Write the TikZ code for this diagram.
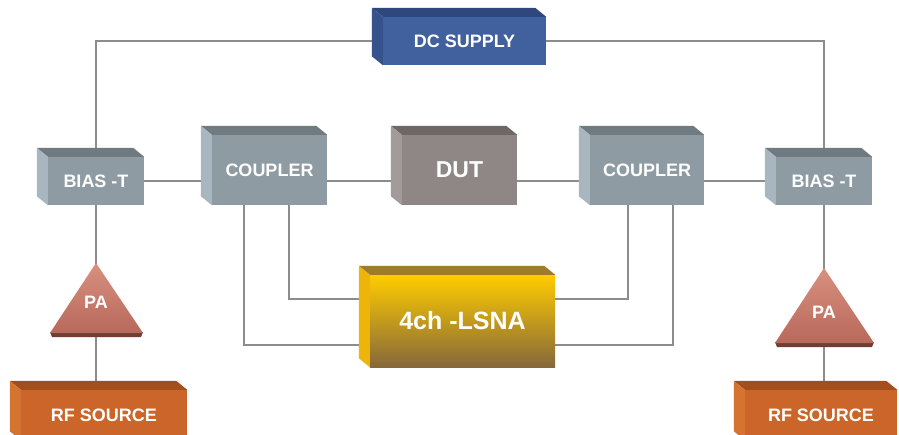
\documentclass[tikz,border=0pt]{standalone}
\usepackage{fontspec}
\setmainfont{Liberation Sans}
\usepackage{xcolor}
\usepackage{tikz}
\usetikzlibrary{backgrounds}

\definecolor{dcblue}{HTML}{41609E}
\definecolor{dcbluetop}{HTML}{2F477D}
\definecolor{dcblueside}{HTML}{36528C}
\definecolor{boxgrey}{HTML}{8E9BA3}
\definecolor{boxgreytop}{HTML}{6F7A81}
\definecolor{boxgreyside}{HTML}{A8B7BF}
\definecolor{dutgrey}{HTML}{8F8785}
\definecolor{dutgreytop}{HTML}{6F6766}
\definecolor{dutgreyside}{HTML}{A39B99}
\definecolor{lsnatop}{HTML}{FFCC00}
\definecolor{lsnabottom}{HTML}{86683A}
\definecolor{lsnalid}{HTML}{9E7C2C}
\definecolor{lsnaside}{HTML}{EDB40C}
\definecolor{rforange}{HTML}{CB6529}
\definecolor{rforangetop}{HTML}{A24E1D}
\definecolor{rforangeside}{HTML}{D57330}
\definecolor{patop}{HTML}{D8907F}
\definecolor{pabottom}{HTML}{B8695B}
\definecolor{pashadow}{HTML}{6E3E33}
\definecolor{wire}{HTML}{8C8C8C}

% top and left faces of a block, drawn on a named front face
\newcommand{\boxfaces}[3]{%
  \fill[#2] (#1.north west) -- ++(-11,-9) -- ([shift={(-11,-9)}]#1.north east)
    -- (#1.north east) -- cycle;
  \fill[#3] (#1.north west) -- ++(-11,-9) -- ([shift={(-11,-9)}]#1.south west)
    -- (#1.south west) -- cycle;}

\begin{document}
\begin{tikzpicture}[x=1pt,y=-1pt,
    unit/.style={inner sep=0pt,text=white,
      font=\bfseries\fontsize{18}{20}\selectfont},
    greybox/.style={unit,fill=boxgrey},
    wires/.style={draw=wire,line width=1.1pt}]
\useasboundingbox (0,0) rectangle (899,434);
\clip (0,0) rectangle (899,434);

\node[unit,fill=dcblue,minimum width=163pt,minimum height=48pt]
    (dc) at (464.5,41) {DC SUPPLY};
\boxfaces{dc}{dcbluetop}{dcblueside}

\node[greybox,minimum width=96pt,minimum height=48pt]
    (biasL) at (96,181) {BIAS -T};
\boxfaces{biasL}{boxgreytop}{boxgreyside}
\node[greybox,minimum width=115pt,minimum height=70pt]
    (coupL) at (269.5,170) {COUPLER};
\boxfaces{coupL}{boxgreytop}{boxgreyside}
\node[unit,fill=dutgrey,minimum width=115pt,minimum height=70pt,
    font=\bfseries\fontsize{23}{26}\selectfont]
    (dut) at (459.5,170) {DUT};
\boxfaces{dut}{dutgreytop}{dutgreyside}
\node[greybox,minimum width=114pt,minimum height=70pt]
    (coupR) at (647,170) {COUPLER};
\boxfaces{coupR}{boxgreytop}{boxgreyside}
\node[greybox,minimum width=96pt,minimum height=48pt]
    (biasR) at (824,181) {BIAS -T};
\boxfaces{biasR}{boxgreytop}{boxgreyside}

\node[unit,top color=lsnatop,bottom color=lsnabottom,
    minimum width=185pt,minimum height=92pt,
    font=\bfseries\fontsize{25}{28}\selectfont]
    (lsna) at (462.5,321) {4ch -LSNA};
\boxfaces{lsna}{lsnalid}{lsnaside}

% amplifiers
\fill[pashadow] (50,332) -- (143,332) -- (141,337) -- (52,337) -- cycle;
\shade[top color=patop,bottom color=pabottom]
    (96,263) -- (143,333) -- (50,333) -- cycle;
\node[unit] (paL) at (96,302) {PA};
\fill[pashadow] (775,342) -- (874,342) -- (872,347) -- (777,347) -- cycle;
\shade[top color=patop,bottom color=pabottom]
    (824,268) -- (874,343) -- (775,343) -- cycle;
\node[unit] (paR) at (824,312) {PA};

\node[unit,fill=rforange,minimum width=166pt,minimum height=50pt]
    (rfL) at (104,415) {RF SOURCE};
\boxfaces{rfL}{rforangetop}{rforangeside}
\node[unit,fill=rforange,minimum width=152pt,minimum height=50pt]
    (rfR) at (821,415) {RF SOURCE};
\boxfaces{rfR}{rforangetop}{rforangeside}

\begin{scope}[on background layer]
\fill[white] (0,0) rectangle (899,434);
\draw[wires] (dc.west) -| (biasL);
\draw[wires] (dc.east) -| (biasR);
\draw[wires] (biasL.east) -- (biasL.east -| coupL.west);
\draw[wires] ([yshift=-11pt]coupL.east) -- ([yshift=-11pt]dut.west);
\draw[wires] ([yshift=-11pt]dut.east) -- ([yshift=-11pt]coupR.west);
\draw[wires] ([yshift=-11pt]coupR.east) -- (biasR.west);
\draw[wires] ([xshift=19.5pt]coupL.south) |- ([yshift=22pt]lsna.west);
\draw[wires] ([xshift=-25.5pt]coupL.south) |- ([yshift=-24pt]lsna.west);
\draw[wires] ([xshift=-19pt]coupR.south) |- ([yshift=22pt]lsna.east);
\draw[wires] ([xshift=26pt]coupR.south) |- ([yshift=-24pt]lsna.east);
\draw[wires] (biasL) -- (paL) -- (paL |- rfL.north);
\draw[wires] (biasR) -- (paR) -- (paR |- rfR.north);
\end{scope}
\end{tikzpicture}
\end{document}
